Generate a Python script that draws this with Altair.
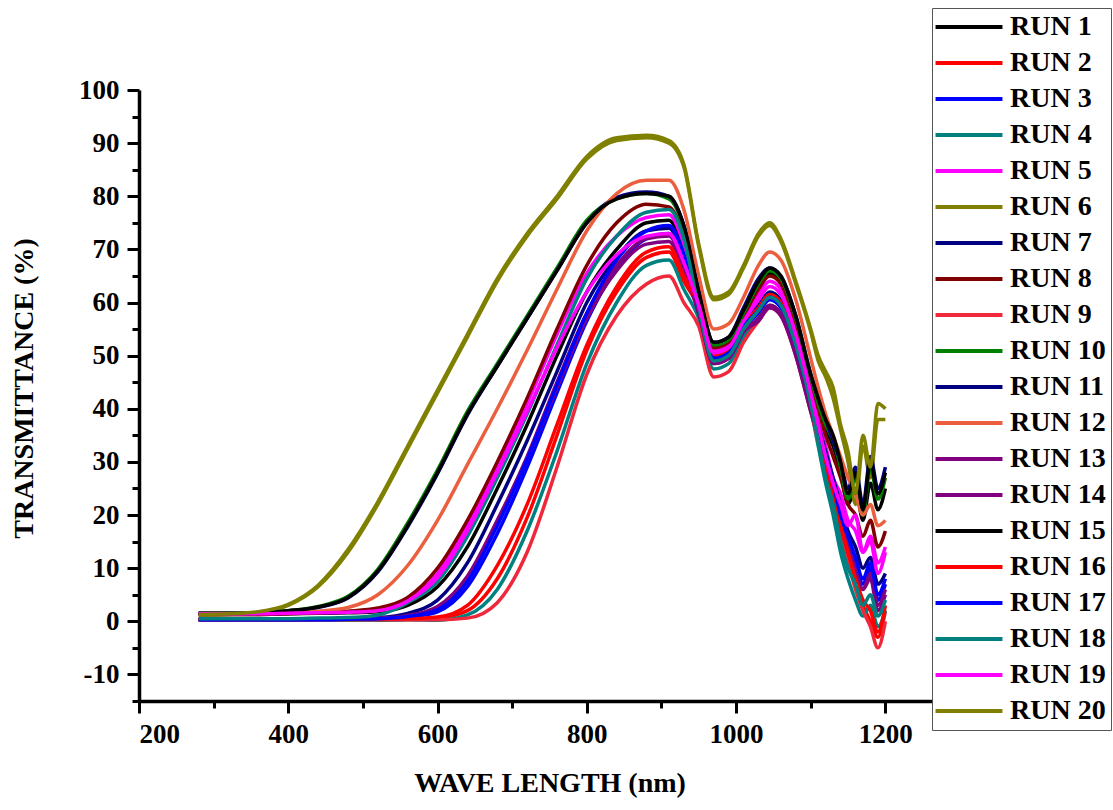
import altair as alt
import pandas as pd

WAVELENGTH = [280, 320, 360, 400, 440, 480, 520, 560, 600, 640, 680, 720, 760, 800, 840, 880,
              910, 930, 950, 970, 990, 1010, 1030, 1045, 1060, 1080, 1100,
              1110, 1120, 1130, 1140, 1150, 1160, 1170, 1180, 1190, 1200]

RUN_1 = [1.3, 1.3, 1.3, 1.4, 1.5, 1.6, 1.8, 3, 6.5, 14, 25, 37, 50, 62, 70, 75, 75.5,
         70, 61.5, 52, 53, 58, 63, 65.5, 64, 56.5, 45.5, 40, 36, 33, 28, 22, 25, 19, 26, 21, 25]
RUN_2 = [0.3, 0.3, 0.3, 0.3, 0.3, 0.3, 0.3, 0.4, 0.6, 2, 8, 19.5, 35, 51, 62, 68.5, 69.5,
         64, 59, 49.5, 50.5, 55.5, 58.5, 61, 59.5, 52, 41, 35, 29, 23, 17, 12, 7, 3, 0, -3, 2]
RUN_3 = [0.2, 0.2, 0.2, 0.2, 0.3, 0.3, 0.4, 0.8, 1.8, 6.5, 16.5, 29, 43, 56.5, 66.5, 72, 73,
         67.5, 58.5, 49, 50, 55, 58, 60.5, 59, 51.5, 41, 36, 30, 25, 19, 15, 11, 7, 10, 4, 7]
RUN_4 = [0.2, 0.2, 0.2, 0.2, 0.2, 0.2, 0.2, 0.3, 0.2, 1.2, 6, 17, 32, 48.5, 60, 67, 68,
         62.5, 57, 47.5, 48.5, 53.5, 57, 59.5, 58, 50.5, 40, 33, 26, 20, 13, 8, 4, 1, 3, -1, 2]
RUN_5 = [1.5, 1.5, 1.5, 1.6, 1.7, 1.8, 2.1, 4, 9, 18, 29, 41, 54, 65.5, 72.5, 76, 76.5,
         71, 60.5, 51, 52, 57, 61.5, 64, 62.5, 55, 44, 38, 33, 27, 24, 19, 17, 13, 16, 11, 14]
RUN_6 = [1.2, 1.3, 1.7, 3.0, 6.5, 13, 22, 32.5, 43, 53.5, 64, 72.5, 79.5, 87, 90.5, 91, 90,
         85.5, 70.5, 60.5, 61.5, 66.5, 72.5, 74.5, 71.5, 63.5, 54.5, 49, 46, 42, 36, 30, 22, 33, 27, 38, 38]
RUN_7 = [0.4, 0.4, 0.4, 0.4, 0.5, 0.5, 0.7, 1.5, 4, 11, 22, 34, 47, 60, 68.5, 73.5, 74,
         68.5, 59.5, 50, 51, 56, 59.5, 62, 60.5, 53, 42, 37, 32, 27, 22, 17, 14, 10, 12, 7, 9]
RUN_8 = [1.3, 1.3, 1.3, 1.4, 1.6, 1.9, 2.5, 4.5, 10, 19, 30, 42, 55, 67, 75, 78.5, 78,
         72.5, 61, 51.5, 52.5, 57.5, 62.5, 65, 63.5, 56, 45, 40, 35, 31, 27, 22, 20, 16, 19, 14, 17]
RUN_9 = [0.3, 0.3, 0.3, 0.3, 0.3, 0.3, 0.3, 0.3, 0.3, 0.6, 3.5, 13, 29, 46.5, 57.5, 63.5, 65,
         60, 55.5, 46, 47, 52.5, 56.5, 59, 57.5, 50, 39.5, 34, 28, 22, 16, 11, 6, 2, -1, -5, 0]
RUN_10 = [1.5, 1.5, 1.6, 2.0, 2.8, 4.7, 9.8, 18.5, 28.5, 39.5, 48.5, 57.5, 66.5, 75.5, 79.5, 80.5, 79.5,
          74, 61.5, 52, 53, 58, 63.5, 66, 64.5, 57, 46, 41, 37, 34, 29, 23, 27, 20, 29, 23, 27]
RUN_11 = [1.4, 1.4, 1.5, 1.9, 2.6, 4.4, 9.3, 17.8, 27.8, 38.8, 48, 57, 66, 75, 79.8, 80.8, 80,
          74.5, 62.5, 52.5, 53.5, 59, 64.5, 66.5, 65, 57.5, 46.5, 42, 38, 34, 30, 25, 29, 22, 31, 25, 29]
RUN_12 = [1.4, 1.4, 1.5, 1.6, 1.9, 2.6, 5, 10.5, 19, 29.5, 40, 51, 62.5, 73.5, 80.5, 83, 83,
          77.5, 65, 55, 56, 61, 67, 69.5, 68, 60.5, 49.5, 44, 39, 35, 31, 27, 24, 20, 22, 18, 19]
RUN_13 = [0.3, 0.3, 0.3, 0.3, 0.4, 0.4, 0.5, 1, 2.5, 8, 18.5, 30.5, 44, 57, 66, 71, 71.5,
          66, 58, 48.5, 49.5, 54.5, 57, 59.5, 58, 50.5, 40, 35, 29, 24, 18, 13, 9, 6, 8, 2, 5]
RUN_14 = [0.4, 0.4, 0.4, 0.4, 0.4, 0.5, 0.6, 1.1, 2.8, 8.5, 19, 31, 45, 58, 67, 72, 72.5,
          67, 58, 48.5, 49.5, 54.5, 56.5, 59, 57.5, 50, 39.5, 35, 30, 24, 19, 14, 10, 6, 9, 3, 6]
RUN_15 = [1.5, 1.5, 1.6, 2.0, 2.7, 4.5, 9.5, 18, 28, 39, 48, 57, 66, 75, 79.5, 80.5, 80,
          74.5, 62, 52.5, 53.5, 58.5, 64, 66.5, 65, 57.5, 46.5, 42, 38, 35, 30, 24, 28, 21, 30, 24, 28]
RUN_16 = [0.5, 0.5, 0.5, 0.5, 0.5, 0.5, 0.5, 0.5, 0.8, 3, 10.5, 22, 37, 52, 63, 69.5, 70.5,
          65, 59.5, 50, 51, 56, 59, 61.5, 60, 52.5, 42, 36, 30, 24, 18, 13, 8, 4, 2, -2, 3]
RUN_17 = [0.3, 0.3, 0.3, 0.3, 0.3, 0.4, 0.5, 0.9, 2.2, 7.5, 18, 30.5, 44.5, 58, 68, 73.5, 74.5,
          69, 59, 49.5, 50.5, 55.5, 58.5, 61, 59.5, 52, 41.5, 36, 31, 26, 20, 16, 12, 8, 11, 5, 8]
RUN_18 = [0.5, 0.5, 0.5, 0.5, 0.6, 0.7, 1.2, 3.5, 7.5, 16, 27, 39, 52, 64.5, 72.5, 77, 77.5,
          72, 59, 49, 50, 55, 58.5, 61, 59.5, 52, 41, 34, 27, 22, 15, 10, 7, 3, 5, 1, 4]
RUN_19 = [1.4, 1.4, 1.4, 1.5, 1.6, 1.7, 2, 3.8, 8.2, 17, 28, 39.5, 51.5, 62, 69, 72.5, 73,
          67.5, 59.5, 50.5, 51.5, 56.5, 60.5, 63, 61.5, 54, 43, 37, 31, 26, 22, 18, 20, 13, 15, 9, 13]
RUN_20 = [1.3, 1.4, 1.8, 3.2, 6.8, 13.5, 22.5, 33, 43.5, 54, 64.5, 73, 80, 87.5, 91, 91.5, 90.5,
          86, 71, 61, 62, 67, 73, 75, 72, 64, 55, 50, 47, 44, 37, 32, 24, 35, 29, 41, 40]

SERIES = [RUN_1, RUN_2, RUN_3, RUN_4, RUN_5, RUN_6, RUN_7, RUN_8, RUN_9, RUN_10,
          RUN_11, RUN_12, RUN_13, RUN_14, RUN_15, RUN_16, RUN_17, RUN_18, RUN_19, RUN_20]
RUN_NAMES = ["RUN %d" % i for i in range(1, 21)]
COLORS = ["#000000", "#FF0000", "#0000FF", "#008080", "#FF00FF", "#808000", "#000080",
          "#800000", "#F0283C", "#008000", "#000080", "#EB5F3E", "#800080", "#800080",
          "#000000", "#FF0000", "#0000FF", "#008080", "#FF00FF", "#808000"]

X_MAJOR = [200, 400, 600, 800, 1000, 1200]
X_MINOR = [300, 500, 700, 900, 1100]
Y_MAJOR = [-10, 0, 10, 20, 30, 40, 50, 60, 70, 80, 90, 100]
Y_MINOR = [-15, -5, 5, 15, 25, 35, 45, 55, 65, 75, 85, 95]

rows = []
for name, vals in zip(RUN_NAMES, SERIES):
    for w, v in zip(WAVELENGTH, vals):
        rows.append({"run": name, "wl": w, "t": v})
df = pd.DataFrame(rows)

FONT = "Liberation Serif"
xscale = alt.Scale(domain=[200, 1300], nice=False, zero=False)
yscale = alt.Scale(domain=[-15, 100], nice=False, zero=False)

common_axis = dict(domainColor="black", domainWidth=3.5, tickColor="black", tickWidth=3,
                   grid=False, labelFont=FONT, labelFontSize=27, labelFontWeight="bold",
                   labelColor="black", titleFont=FONT, titleFontSize=28,
                   titleFontWeight="bold", titleColor="black", labelExpr="'' + datum.value")

lines = alt.Chart(df).mark_line(strokeWidth=3.5, interpolate="monotone").encode(
    x=alt.X("wl:Q", scale=xscale,
            axis=alt.Axis(values=X_MAJOR, title="WAVE LENGTH (nm)", orient="bottom",
                          tickSize=12, labelPadding=8, titlePadding=22,
                          **common_axis)),
    y=alt.Y("t:Q", scale=yscale,
            axis=alt.Axis(values=Y_MAJOR, title="TRANSMITTANCE (%)", orient="left",
                          tickSize=12, labelPadding=8, titlePadding=40, titleY=298,
                          **common_axis)),
    color=alt.Color("run:N", scale=alt.Scale(domain=RUN_NAMES, range=COLORS),
                    legend=alt.Legend(orient="none", legendX=793, legendY=-82, title=None,
                                      symbolType="M-4,0H4", symbolSize=280,
                                      symbolStrokeWidth=4, symbolOffset=18,
                                      labelFont=FONT,
                                      labelFontSize=28, labelFontWeight="bold",
                                      labelColor="black", rowPadding=8, padding=5,
                                      labelOffset=27, strokeColor="#555555",
                                      fillColor="white", zindex=5, labelLimit=300)),
)

minor = alt.Chart(pd.DataFrame({"wl": [200], "t": [-15]})).mark_point(opacity=0).encode(
    x=alt.X("wl:Q", scale=xscale,
            axis=alt.Axis(values=X_MINOR, labels=False, title=None, orient="bottom",
                          tickSize=7, domain=False, tickColor="black", tickWidth=3, grid=False)),
    y=alt.Y("t:Q", scale=yscale,
            axis=alt.Axis(values=Y_MINOR, labels=False, title=None, orient="left",
                          tickSize=7, domain=False, tickColor="black", tickWidth=3, grid=False)),
)

chart = alt.layer(minor, lines).resolve_axis(x="independent", y="independent").properties(
    width=821, height=611,
    autosize=alt.AutoSizeParams(type="none"),
    padding={"left": 139, "top": 90, "right": 153, "bottom": 109},
    background="white",
).configure_view(stroke=None)

chart.save("out.html", embed_options={"renderer": "svg", "actions": False})
